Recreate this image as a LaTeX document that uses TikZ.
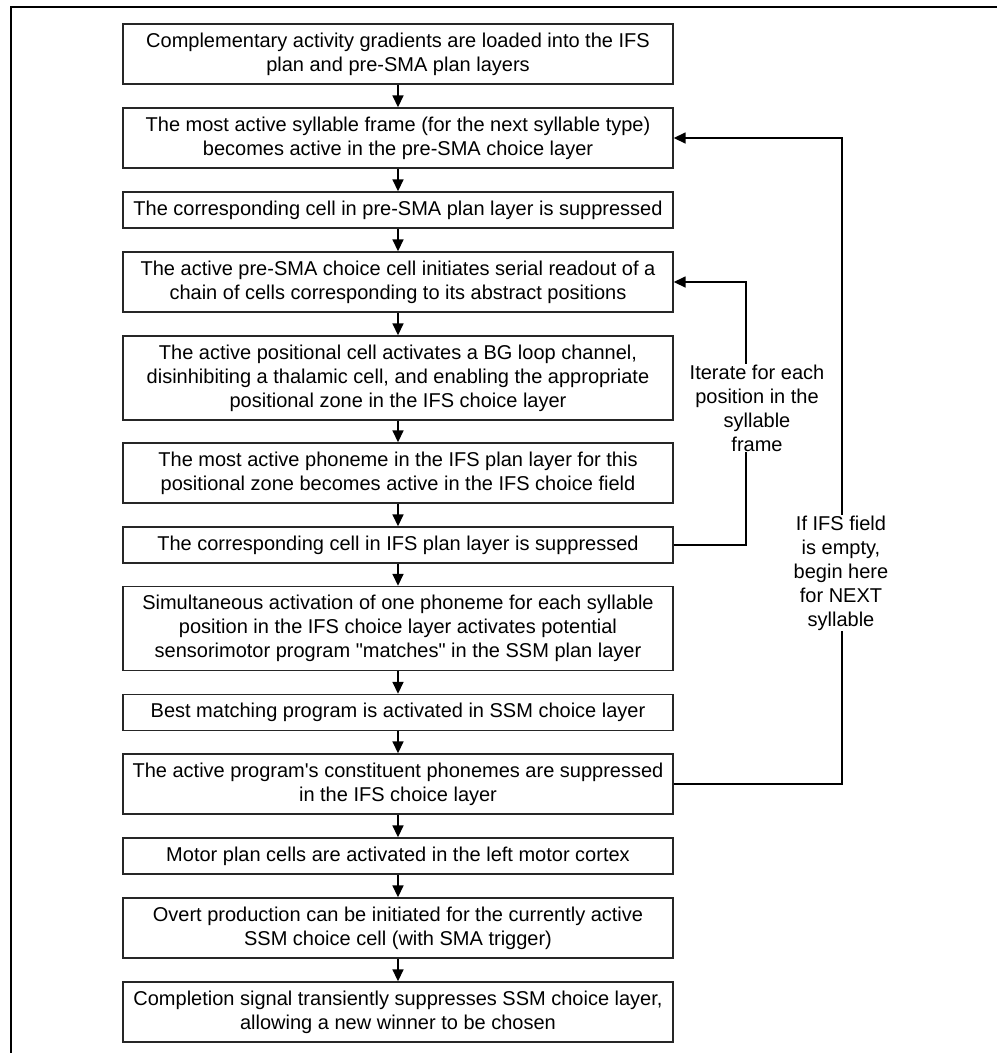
\documentclass[tikz,border=0pt]{standalone}
\usepackage{fontspec}
\setmainfont{Liberation Sans}
\usetikzlibrary{arrows.meta}
\begin{document}
\begin{tikzpicture}[x=1pt,y=-1pt,
  stepbox/.style={draw=black!85,line width=1.4pt,minimum width=550pt,inner sep=0pt,align=center,
    font=\fontsize{20}{24}\selectfont},
  conn/.style={draw=black,line width=1.6pt,-{Triangle[length=12pt,width=11pt]}},
  lbl/.style={fill=white,inner sep=1pt,align=center,font=\fontsize{20}{24}\selectfont}]
\useasboundingbox (0,0) rectangle (997,1053);
\draw[line width=2.5pt] (11,1053) -- (11,7) -- (997,7);
\node[stepbox,minimum height=60pt] (b1) at (398,54) {Complementary activity gradients are loaded into the IFS\\plan and pre-SMA plan layers};
\node[stepbox,minimum height=60pt] (b2) at (398,138) {The most active syllable frame (for the next syllable type)\\becomes active in the pre-SMA choice layer};
\node[stepbox,minimum height=36pt] (b3) at (398,210) {The corresponding cell in pre-SMA plan layer is suppressed};
\node[stepbox,minimum height=60pt] (b4) at (398,282) {The active pre-SMA choice cell initiates serial readout of a\\chain of cells corresponding to its abstract positions};
\node[stepbox,minimum height=84pt] (b5) at (398,378) {The active positional cell activates a BG loop channel,\\disinhibiting a thalamic cell, and enabling the appropriate\\positional zone in the IFS choice layer};
\node[stepbox,minimum height=60pt] (b6) at (398,473) {The most active phoneme in the IFS plan layer for this\\positional zone becomes active in the IFS choice field};
\node[stepbox,minimum height=36pt] (b7) at (398,545) {The corresponding cell in IFS plan layer is suppressed};
\node[stepbox,minimum height=84pt] (b8) at (398,628.5) {Simultaneous activation of one phoneme for each syllable\\position in the IFS choice layer activates potential\\sensorimotor program \textquotedbl matches\textquotedbl{} in the SSM plan layer};
\node[stepbox,minimum height=36pt] (b9) at (398,712.5) {Best matching program is activated in SSM choice layer};
\node[stepbox,minimum height=60pt] (b10) at (398,784) {The active program\textquotesingle s constituent phonemes are suppressed\\in the IFS choice layer};
\node[stepbox,minimum height=36pt] (b11) at (398,856) {Motor plan cells are activated in the left motor cortex};
\node[stepbox,minimum height=60pt] (b12) at (398,928) {Overt production can be initiated for the currently active\\SSM choice cell (with SMA trigger)};
\node[stepbox,minimum height=60pt] (b13) at (398,1012) {Completion signal transiently suppresses SSM choice layer,\\allowing a new winner to be chosen};
\foreach \a/\b in {b1/b2,b2/b3,b3/b4,b4/b5,b5/b6,b6/b7,b7/b8,b8/b9,b9/b10,b10/b11,b11/b12,b12/b13}
  \draw[conn] (\a) -- (\b);
\draw[conn] (b7.east) -- ++(72,0) |- (b4.east);
\draw[conn] (b10.east) -- ++(168,0) |- (b2.east);
\node[lbl] (iter) at (757,408) {Iterate for each\\position in the\\syllable\\frame};
\node[lbl] (ifs) at (841,573) {If IFS field\\is empty,\\begin here\\for NEXT\\syllable};
\end{tikzpicture}
\end{document}
